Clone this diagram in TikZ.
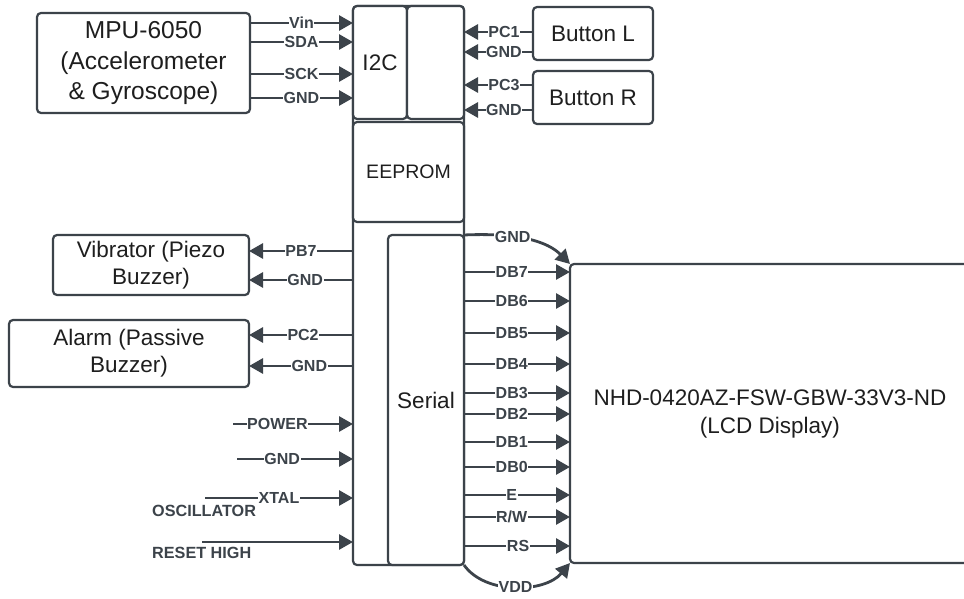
\documentclass[tikz,border=0pt]{standalone}
\usepackage{fontspec}
\setmainfont{Liberation Sans}
\usepackage{xcolor}
\usetikzlibrary{arrows.meta,positioning,calc}
\definecolor{wire}{HTML}{3C434A}
\definecolor{ink}{HTML}{1E1E1E}

\begin{document}
\begin{tikzpicture}[x=1pt, y=-1pt,
    box/.style={draw=wire, line width=2.2pt, rounded corners=4pt, fill=white, align=center, inner sep=0pt, outer sep=0pt, text=ink, font=\fontsize{22.5}{27}\selectfont},
    pin/.style={draw=wire, line width=2.8pt, -{Triangle[length=14pt,width=15pt]}},
    lbl/.style={fill=white, inner sep=0.6pt, text=wire, font=\bfseries\fontsize{16}{16}\selectfont},
    note/.style={inner sep=0pt, text=wire, font=\bfseries\fontsize{16.2}{16}\selectfont}]
        \useasboundingbox[fill=white] (0,0) rectangle (964,599);
        \clip (0,0) rectangle (964,599);

        % Microcontroller and its blocks
        \node[box, minimum width=111pt, minimum height=559pt] (mcu) at (408.5,285.5) {};
        \node[box, minimum width=54pt, minimum height=113pt] (i2c) at (380,62.5) {I2C};
        \node[box, minimum width=57pt, minimum height=113pt, right=0pt of i2c] (spare) {};
        \node[box, minimum width=111pt, minimum height=100pt, font=\fontsize{19.5}{23}\selectfont] (eeprom) at (408.5,172) {EEPROM};
        \node[box, minimum width=76pt, minimum height=330pt] (serial) at (426,400) {Serial};

        % Peripherals
        \node[box, minimum width=213pt, minimum height=100pt, font=\fontsize{24.5}{30.5}\selectfont] (mpu) at (143.5,63) {MPU-6050\\(Accelerometer\\\& Gyroscope)};
        \node[box, minimum width=120pt, minimum height=53pt] (btnL) at (593,33.5) {Button L};
        \node[box, minimum width=120pt, minimum height=53pt, below=11pt of btnL] (btnR) {Button R};
        \node[box, minimum width=196pt, minimum height=60pt] (vib) at (151,265) {Vibrator (Piezo\\Buzzer)};
        \node[box, minimum width=240pt, minimum height=67pt] (alarm) at (129,353.5) {Alarm (Passive\\Buzzer)};
        \node[box, minimum width=400pt, minimum height=299pt, font=\fontsize{22.5}{28}\selectfont] (lcd) at (770,413.5) {NHD-0420AZ-FSW-GBW-33V3-ND\\(LCD Display)};

        % Sensor and buttons into the MCU
        \foreach \y/\sig in {23/Vin, 42/SDA, 74/SCK, 98/GND}
            \draw[pin] (mpu.east |- 0,\y) -- node[lbl] {\sig} (mcu.west |- 0,\y);
        \foreach \y/\sig in {32/PC1, 52/GND}
            \draw[pin] (btnL.west |- 0,\y) -- node[lbl, pos=0.42] {\sig} (mcu.east |- 0,\y);
        \foreach \y/\sig in {85/PC3, 110/GND}
            \draw[pin] (btnR.west |- 0,\y) -- node[lbl, pos=0.42] {\sig} (mcu.east |- 0,\y);

        % Buzzers
        \foreach \y/\sig/\p in {251/PB7/0.5, 280/GND/0.46}
            \draw[pin] (mcu.west |- 0,\y) -- node[lbl, pos=\p] {\sig} (vib.east |- 0,\y);
        \foreach \y/\sig/\p in {335/PC2/0.48, 366/GND/0.42}
            \draw[pin] (mcu.west |- 0,\y) -- node[lbl, pos=\p] {\sig} (alarm.east |- 0,\y);

        % Supply, clock and reset
        \coordinate (pwr) at (233,424);
        \coordinate (gnd) at (237,459);
        \coordinate (xtal) at (205,498);
        \coordinate (rst) at (202,542);
        \node[note, anchor=west] (osc) at (152,511) {OSCILLATOR};
        \node[note, anchor=west] (reset) at (152,553) {RESET HIGH};
        \draw[pin] (pwr) -- node[lbl, pos=0.37] {POWER} (mcu.west |- pwr);
        \draw[pin] (gnd) -- node[lbl, pos=0.39] {GND} (mcu.west |- gnd);
        \draw[pin] (xtal) -- node[lbl, pos=0.5] {XTAL} (mcu.west |- xtal);
        \draw[pin] (rst) -- (mcu.west |- rst);

        % Serial bus to the LCD
        \foreach \y/\sig/\p in {272/DB7/0.45, 301/DB6/0.45, 333/DB5/0.45, 364/DB4/0.45, 393/DB3/0.45, 414/DB2/0.45, 442/DB1/0.45, 467/DB0/0.45, 495/E/0.45, 517/R\slash W/0.45, 546/RS/0.51}
            \draw[pin] (serial.east |- 0,\y) -- node[lbl, pos=\p] {\sig} (lcd.west |- 0,\y);
        \draw[pin] (serial.north east) .. controls +(66,-3) and +(-18,-18) .. (lcd.north west) node[lbl, pos=0.3] {GND};
        \draw[pin] (serial.south east) .. controls +(21,30) and +(-25,30) .. (lcd.south west) node[lbl, pos=0.5] {VDD};
    \end{tikzpicture}
\end{document}
